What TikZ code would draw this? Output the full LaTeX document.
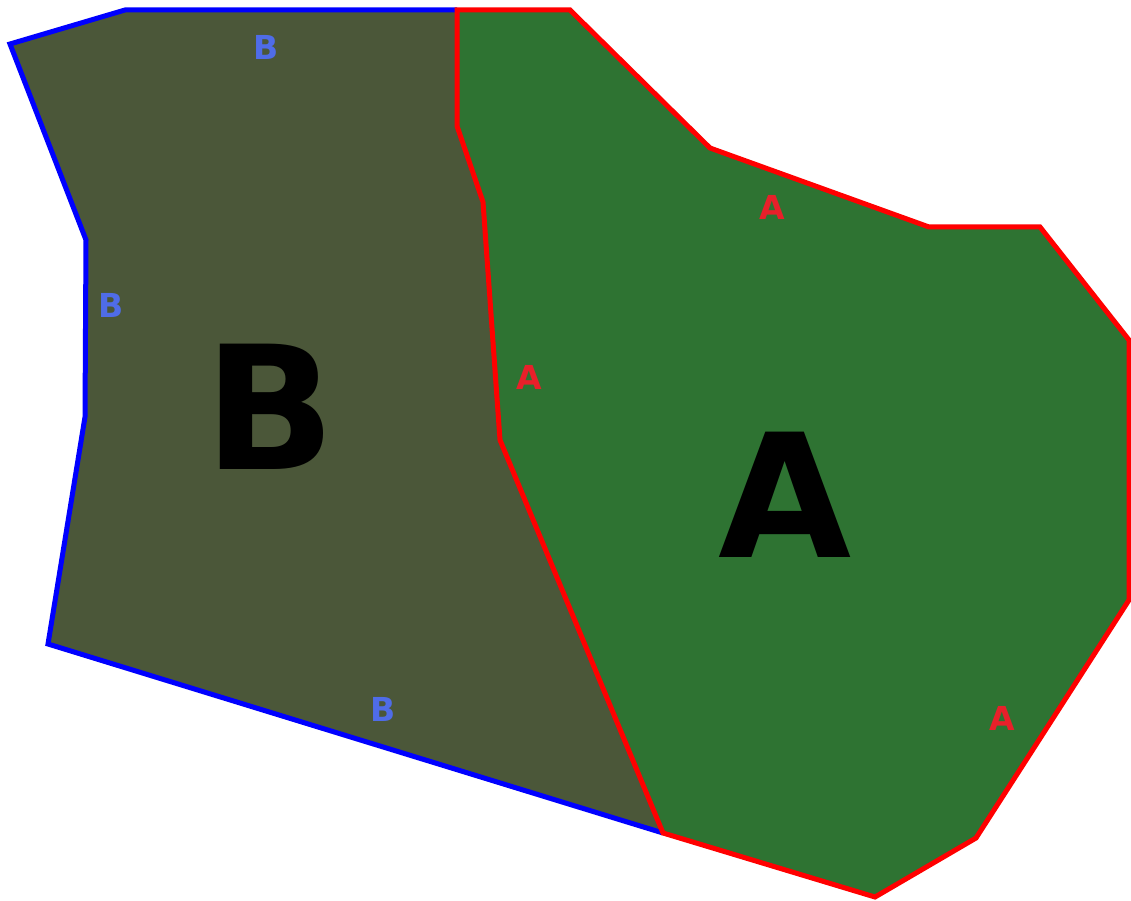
\documentclass[tikz,border=0pt]{standalone}
\usepackage{fontspec}
\setmainfont{DejaVu Sans}
\begin{document}
\begin{tikzpicture}[x=1pt,y=-1pt,
  bfill/.style={fill=bolive},
  afill/.style={fill=agreen},
  bedge/.style={draw=blue,line width=5pt,line join=miter},
  aedge/.style={draw=red,line width=5pt,line join=miter},
  small/.style={font=\fontsize{33}{33}\selectfont\bfseries,inner sep=0pt},
  big/.style={font=\fontsize{172}{172}\selectfont\bfseries,inner sep=0pt,text=black}]
\definecolor{bolive}{HTML}{4B5739}
\definecolor{agreen}{HTML}{2E7332}
\definecolor{blab}{HTML}{4F6CE8}
\definecolor{alab}{HTML}{E8202A}
\useasboundingbox (0,0) rectangle (1131,901);
% shared border coordinates
\coordinate (s1) at (457,10);
\coordinate (s2) at (457,126);
\coordinate (s3) at (483,202);
\coordinate (s4) at (500,440);
\coordinate (s5) at (663,833);
% region B
\coordinate (b1) at (48,644);
\coordinate (b2) at (85,417);
\coordinate (b3) at (86,240);
\coordinate (b4) at (10,44);
\coordinate (b5) at (125,10);
% region A
\coordinate (a1) at (570,10);
\coordinate (a2) at (710,148);
\coordinate (a3) at (929,227);
\coordinate (a4) at (1040,227);
\coordinate (a5) at (1129,340);
\coordinate (a6) at (1129,600);
\coordinate (a7) at (976,838);
\coordinate (a8) at (875,897);
\fill[bfill] (s1) -- (s2) -- (s3) -- (s4) -- (s5) -- (b1) -- (b2) -- (b3) -- (b4) -- (b5) -- cycle;
\fill[afill] (s1) -- (a1) -- (a2) -- (a3) -- (a4) -- (a5) -- (a6) -- (a7) -- (a8) -- (s5) -- (s4) -- (s3) -- (s2) -- cycle;
\draw[bedge] (s5) -- (b1) -- (b2) -- (b3) -- (b4) -- (b5) -- (s1);
\draw[aedge] (s1) -- (a1) -- (a2) -- (a3) -- (a4) -- (a5) -- (a6) -- (a7) -- (a8) -- (s5) -- (s4) -- (s3) -- (s2) -- cycle;
\node[small,text=blab] (lb1) at (266,47) {B};
\node[small,text=blab] (lb2) at (111,305) {B};
\node[small,text=blab] (lb3) at (383,709) {B};
\node[small,text=alab] (la1) at (772,207) {A};
\node[small,text=alab] (la2) at (529,377) {A};
\node[small,text=alab] (la3) at (1002,718) {A};
\node[big] (bigb) at (270,407) {B};
\node[big] (biga) at (785,495) {A};
\end{tikzpicture}
\end{document}
